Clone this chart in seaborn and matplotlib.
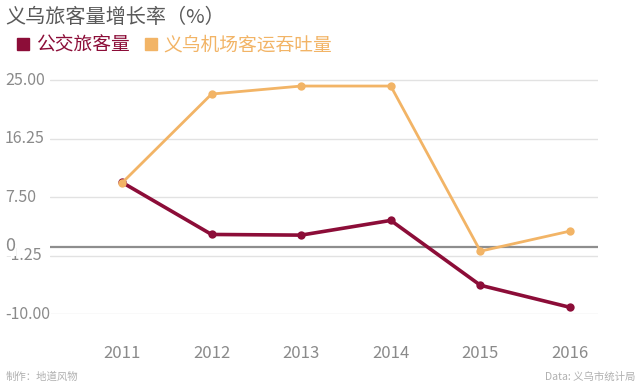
import pandas as pd
import seaborn as sns
import matplotlib.pyplot as plt
from matplotlib.lines import Line2D

# data
years = [2011, 2012, 2013, 2014, 2015, 2016]
bus = [9.7, 1.9, 1.8, 4.0, -5.7, -9.0]
airport = [9.6, 22.9, 24.1, 24.1, -0.6, 2.4]
series_names = ["公交旅客量", "义乌机场客运吞吐量"]
yticks = [25.0, 16.25, 7.5, -1.25, -10.0]
ytick_labels = ["25.00", "16.25", "7.50", "-1.25", "-10.00"]

df = pd.DataFrame({
    "year": years * 2,
    "value": bus + airport,
    "series": [series_names[0]] * 6 + [series_names[1]] * 6,
})

sns.set_style("white")
plt.rcParams['font.family'] = ['Noto Sans CJK SC', 'DejaVu Sans']

red = "#8c0d38"
orange = "#f2b466"
grey = "#8a8a8a"

fig = plt.figure(figsize=(6.4, 3.88), dpi=100)
ax = fig.add_axes([0.078, 0.1907, 0.856, 0.6289])

for y in yticks:
    ax.axhline(y, color="#e2e2e2", lw=1, zorder=0)
ax.axhline(0, color="#8e8e8e", lw=1.6, zorder=1)

sns.lineplot(data=df, x="year", y="value", hue="series",
             palette={series_names[0]: red, series_names[1]: orange},
             marker="o", markersize=6, markeredgewidth=0, ax=ax,
             legend=False, zorder=3)
for line, lw in zip(ax.lines[-2:], [2.6, 2.0]):
    line.set_linewidth(lw)

ax.set_xlim(2010.196, 2016.31)
ax.set_ylim(-10, 26.5)
ax.set_xticks(years)
ax.set_xticklabels([str(y) for y in years], color=grey, fontsize=12)
ax.set_yticks(yticks)
ax.set_yticklabels([])
ax.tick_params(axis="y", length=0)
ax.tick_params(axis="x", length=8, color="#dddddd", width=1, direction="out", pad=14)
ax.set_xlabel("")
ax.set_ylabel("")
for s in ax.spines.values():
    s.set_visible(False)

# y labels left-aligned at the figure edge, with white backing over the gridlines
ytrans = ax.get_yaxis_transform()
for y, lab in zip(yticks, ytick_labels):
    ax.text(-0.082, y, lab, transform=ytrans, ha="left", va="center",
            color=grey, fontsize=11.5, clip_on=False,
            bbox=dict(facecolor="white", edgecolor="none", pad=1))

# the "0" label that sits over the -1.25 label
ax.text(-0.082, 0.2, "0", transform=ytrans, ha="left", va="center",
        color=grey, fontsize=13, clip_on=False,
        bbox=dict(facecolor="white", edgecolor="none", pad=0.5))

fig.text(0.008, 0.955, "义乌旅客量增长率（%）", fontsize=14.5, color="#5a5a5a", va="center")

handles = [Line2D([], [], marker="s", ls="none", color=red, markersize=8.5),
           Line2D([], [], marker="s", ls="none", color=orange, markersize=8.5)]
leg = fig.legend(handles, series_names, loc="center left", bbox_to_anchor=(-0.005, 0.885),
                 ncol=2, frameon=False, fontsize=13.5, handletextpad=0.2,
                 columnspacing=0.6, handlelength=1.0)
for t, c in zip(leg.get_texts(), [red, orange]):
    t.set_color(c)

fig.text(0.008, 0.02, "制作：地道风物", fontsize=7.5, color="#b0b0b0")
fig.text(0.993, 0.02, "Data: 义乌市统计局", fontsize=7.5, color="#b0b0b0", ha="right")

fig.savefig("out.png", dpi=100)
